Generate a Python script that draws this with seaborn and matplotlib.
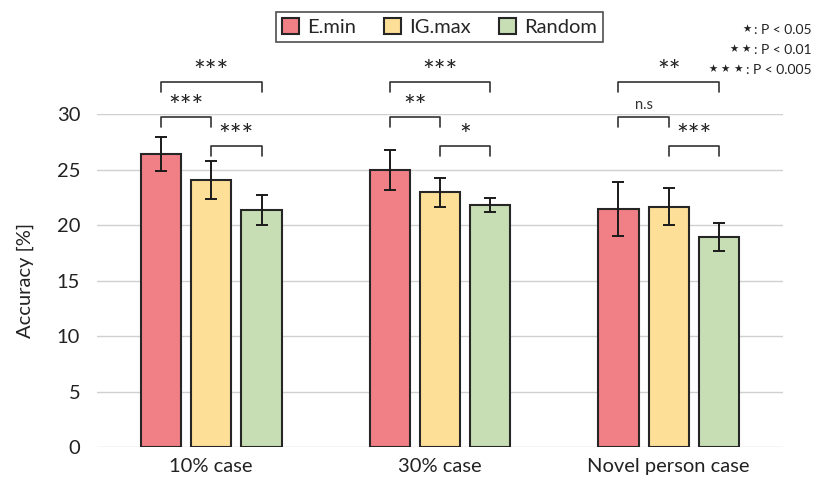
import numpy as np
import pandas as pd
import seaborn as sns
import matplotlib.pyplot as plt

cases = ["10% case", "30% case", "Novel person case"]
methods = ["E.min", "IG.max", "Random"]
emin_mean = [26.4, 24.95, 21.45]
igmax_mean = [24.05, 22.95, 21.65]
random_mean = [21.35, 21.8, 18.95]
emin_err = [1.55, 1.8, 2.45]
igmax_err = [1.75, 1.3, 1.65]
random_err = [1.35, 0.6, 1.25]

# significance marks per case, for pairs (E.min, IG.max), (IG.max, Random), (E.min, Random)
sig_pairs = [(0, 1), (1, 2), (0, 2)]
sig_10 = ["***", "***", "***"]
sig_30 = ["**", "*", "***"]
sig_novel = ["n.s", "***", "**"]
note_stars = ["⋆", "⋆⋆", "⋆⋆⋆"]
note_levels = [": P < 0.05", ": P < 0.01", ": P < 0.005"]

colors = ["#F07F86", "#FEDF98", "#C7DEB4"]

sns.set_theme(style="white")
plt.rcParams["font.family"] = ["Lato", "DejaVu Sans"]

means = [emin_mean, igmax_mean, random_mean]
errs = [emin_err, igmax_err, random_err]
df = pd.DataFrame({
    "case": [c for m in methods for c in cases],
    "method": [m for m in methods for c in cases],
    "acc": [v for row in means for v in row],
})

fig = plt.figure(figsize=(8.14, 4.86), dpi=100)
ax = fig.add_axes([0.119, 0.0802, 0.843, 0.6852])

sns.barplot(data=df, x="case", y="acc", hue="method", order=cases,
            hue_order=methods, palette=colors, width=0.66, gap=0.2,
            errorbar=None, edgecolor="#262626", linewidth=1.5, ax=ax,
            saturation=1)

# error bars on the bar centres
centres = []
for cont, m, e in zip(ax.containers, means, errs):
    xs = [p.get_x() + p.get_width() / 2 for p in cont.patches]
    centres.append(xs)
    ax.errorbar(xs, m, yerr=e, fmt="none", ecolor="#1a1a1a",
                elinewidth=1.4, capsize=4, capthick=1.4, zorder=5)

ax.set_ylim(0, 30)
ax.set_xlim(-0.5, 2.5)
ax.set_yticks(range(0, 31, 5))
ax.yaxis.grid(True, color="#d0d0d0", linewidth=1.0)
ax.set_axisbelow(True)
for s in ax.spines.values():
    s.set_visible(False)
ax.tick_params(axis="both", length=0, labelsize=14.5, colors="#222222", pad=12)
ax.tick_params(axis="x", pad=8)
ax.set_xlabel("")
ax.set_ylabel("Accuracy [%]", fontsize=14.5, color="#222222", labelpad=16)

# significance brackets
bar_levels = {(0, 1): 29.73, (1, 2): 27.12, (0, 2): 32.88}
leg_drop = 0.9
for gi, marks in enumerate([sig_10, sig_30, sig_novel]):
    for (a, b), mark in zip(sig_pairs, marks):
        y = bar_levels[(a, b)]
        xa, xb = centres[a][gi], centres[b][gi]
        ax.plot([xa, xa, xb, xb], [y - leg_drop, y, y, y - leg_drop],
                color="#333333", linewidth=1.2, clip_on=False)
        if mark == "n.s":
            ax.text((xa + xb) / 2, y + 0.45, mark, ha="center", va="bottom",
                    fontsize=10.5, color="#333333")
        else:
            ax.text((xa + xb) / 2, y + 0.8, mark, ha="center", va="center",
                    fontsize=20, color="#222222")

# legend
handles, labels = ax.get_legend_handles_labels()
ax.get_legend().remove()
leg = fig.legend(handles, labels, loc="center", bbox_to_anchor=(0.540, 0.945),
                 ncol=3, frameon=True, fancybox=False, fontsize=14.5,
                 handlelength=0.85, handleheight=0.85, handletextpad=0.4,
                 columnspacing=1.4, borderpad=0.3, edgecolor="#222222")
leg.get_frame().set_linewidth(1.2)

# p-value key
for i, (st, lv) in enumerate(zip(note_stars, note_levels)):
    t = fig.text(0.997, 1 - (30 + 20 * i) / 486, lv, ha="right", va="center",
                 fontsize=10, color="#222222")
    ax.annotate(st, xy=(0, 0.5), xycoords=t, ha="right", va="center",
                fontsize=15, color="#222222", annotation_clip=False,
                xytext=(0, 0.5), textcoords="offset points")

fig.savefig("out.png", dpi=100)
